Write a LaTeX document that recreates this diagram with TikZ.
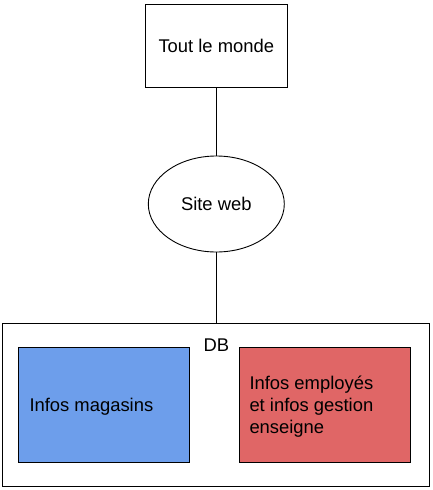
\documentclass[tikz,border=0pt]{standalone}
\usepackage{fontspec}
\setmainfont{Liberation Sans}
\usetikzlibrary{shapes.geometric}
\definecolor{boxblue}{HTML}{6D9EEB}
\definecolor{boxred}{HTML}{E06666}
\begin{document}
\begin{tikzpicture}[x=1pt,y=-1pt,
  every node/.style={font=\fontsize{18.4}{21.7}\selectfont, inner sep=0pt},
  box/.style={draw=black, line width=0.9pt, rectangle},
  conn/.style={draw=black, line width=0.9pt}]
\useasboundingbox (0,0) rectangle (433,490);
\node[box, minimum width=142pt, minimum height=83pt] (tout) at (216.3,45.5) {Tout le monde};
\node[draw=black, line width=0.9pt, ellipse, minimum width=136pt, minimum height=96pt] (site) at (216.3,204) {Site web};
\node[box, minimum width=427pt, minimum height=163pt] (db) at (216.3,404.5) {};
\node (dblabel) at (216.3,345) {DB};
\node[box, fill=boxblue, minimum width=171pt, minimum height=115.4pt] (mag) at (103.8,405) {};
\node[box, fill=boxred, minimum width=171.4pt, minimum height=115.4pt] (emp) at (325,405) {};
\node[anchor=west] (magtext) at (29.3,406.7) {Infos magasins};
\node[anchor=west, align=left] (emptext) at (249.3,406.7) {Infos employés\\et infos gestion\\enseigne};
\draw[conn] (tout.south) -- (site.north);
\draw[conn] (site.south) -- (db.north);
\end{tikzpicture}
\end{document}
